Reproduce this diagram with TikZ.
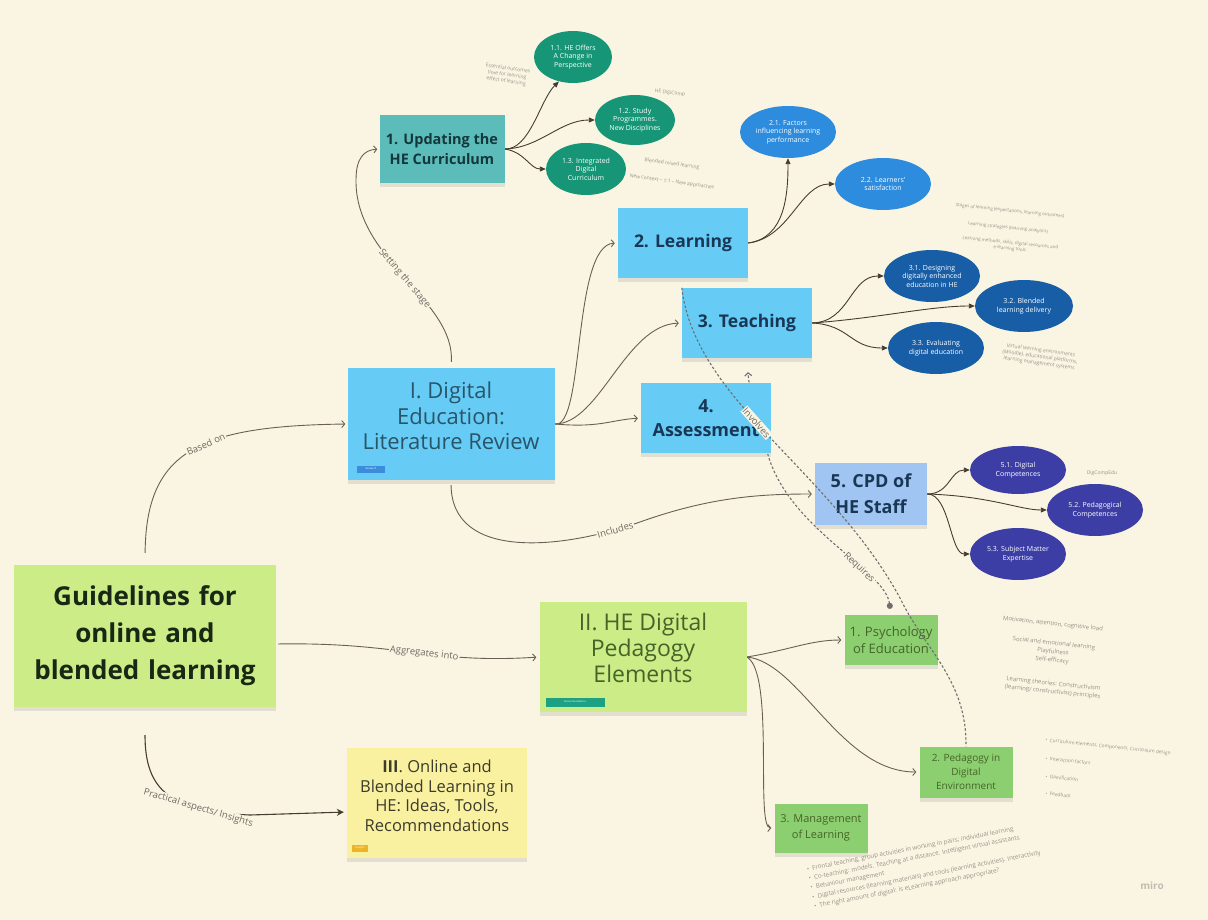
\documentclass[tikz,border=0pt]{standalone}
\usepackage{fontspec}
\setmainfont{Open Sans}
\usetikzlibrary{arrows.meta,shadows,shapes.geometric}
\definecolor{bg}{RGB}{250,245,226}
\definecolor{lgreen}{RGB}{203,236,135}
\definecolor{lyellow}{RGB}{250,241,160}
\definecolor{skyb}{RGB}{103,204,245}
\definecolor{cpdc}{RGB}{160,197,242}
\definecolor{tealc}{RGB}{92,188,186}
\definecolor{sgreen}{RGB}{140,207,112}
\definecolor{egreen}{RGB}{22,150,118}
\definecolor{eblue}{RGB}{45,140,222}
\definecolor{edblue}{RGB}{24,94,166}
\definecolor{eindigo}{RGB}{60,62,165}
\definecolor{linec}{RGB}{105,95,85}
\definecolor{arrc}{RGB}{70,60,50}
\definecolor{dashc}{RGB}{110,110,110}
\definecolor{lblc}{RGB}{110,105,100}
\definecolor{notec}{RGB}{150,145,138}
\definecolor{bluetxt}{RGB}{25,55,85}
\definecolor{itxt}{RGB}{40,85,105}
\definecolor{gtxt}{RGB}{70,100,40}
\definecolor{guidetxt}{RGB}{25,40,20}
\definecolor{iiitxt}{RGB}{60,60,45}
\definecolor{updtxt}{RGB}{20,55,60}
\definecolor{mirotxt}{RGB}{192,188,178}
\definecolor{tagblue}{RGB}{60,140,220}
\definecolor{tagteal}{RGB}{30,160,130}
\definecolor{tagorange}{RGB}{238,180,40}
\pgfdeclarelayer{bottom}
\pgfdeclarelayer{bgl}
\pgfsetlayers{bottom,bgl,main}
\begin{document}
\begin{tikzpicture}[x=1pt,y=-1pt,
  sticky/.style={rectangle, inner sep=2pt, align=center,
    drop shadow={shadow xshift=0pt, shadow yshift=-4pt, opacity=0.18}},
  oval/.style={ellipse, inner sep=-9pt, align=center, text=white,
    font=\fontsize{7}{8.5}\selectfont},
  conn/.style={draw=linec, line width=0.9pt, -{Straight Barb[length=3pt,width=7pt]}},
  tri/.style={draw=arrc, line width=0.9pt, -{Triangle[length=6pt,width=5pt]}},
  lbl/.style={fill=bg, inner sep=1pt, text=lblc, font=\fontsize{9.5}{11}\selectfont},
  note/.style={text=notec, font=\fontsize{5}{6.5}\selectfont, align=center},
  dsh/.style={draw=dashc, line width=1.1pt, dash pattern=on 2.5pt off 2pt},
  tag/.style={rectangle, inner sep=0pt, minimum height=7, text=white,
    font=\fontsize{2.5}{3}\selectfont}]
\begin{pgfonlayer}{bottom}
\fill[bg] (0,0) rectangle (1208,920);
\end{pgfonlayer}
\useasboundingbox (0,0) rectangle (1208,920);

% ---------- main stickies ----------
\node[sticky, fill=lgreen, minimum width=262, minimum height=142, text width=258,
  text=guidetxt, font=\fontsize{26}{37}\selectfont\bfseries]
  (guide) at (145,636) {Guidelines for\\online and\\blended learning};

\node[sticky, fill=skyb, minimum width=207, minimum height=112] (digi) at (451,424) {};
\node[text=itxt, align=center, font=\fontsize{22}{25.5}\selectfont] (digit) at (451,416) {I. Digital\\Education:\\Literature Review};
\node[tag, fill=tagblue, minimum width=28] (tagr) at (371,469) {Research};

\node[sticky, fill=lgreen, minimum width=207, minimum height=110] (pedago) at (643,657) {};
\node[text=gtxt, align=center, font=\fontsize{23}{26}\selectfont] (pedagot) at (643,648) {II. HE Digital\\Pedagogy\\Elements};
\node[tag, fill=tagteal, minimum width=59, minimum height=9] (tagrec) at (575,702) {Recommendations};

\node[sticky, fill=lyellow, minimum width=180, minimum height=110] (iii) at (437,803) {};
\node[text=iiitxt, align=center, font=\fontsize{16.5}{19.5}\selectfont] (iiit) at (437,796) {\textbf{III}. Online and\\Blended Learning in\\HE: Ideas, Tools,\\Recommendations};
\node[tag, fill=tagorange, minimum width=16] (tagins) at (360,848) {Insights};

\node[sticky, fill=tealc, minimum width=125, minimum height=68, text=updtxt,
  font=\fontsize{14.5}{20}\selectfont\bfseries] (upd) at (442,149) {1. Updating the\\HE Curriculum};

\node[sticky, fill=skyb, minimum width=130, minimum height=70, text=bluetxt,
  font=\fontsize{17.5}{22}\selectfont\bfseries] (learn) at (683,243) {2. Learning};
\node[sticky, fill=skyb, minimum width=130, minimum height=70, text=bluetxt,
  font=\fontsize{17.5}{22}\selectfont\bfseries] (teach) at (747,323) {3. Teaching};
\node[sticky, fill=skyb, minimum width=130, minimum height=70, text=bluetxt,
  font=\fontsize{18}{24}\selectfont\bfseries] (assess) at (706,418) {4.\\Assessment};
\node[sticky, fill=cpdc, minimum width=112, minimum height=62, text=bluetxt,
  font=\fontsize{18}{26}\selectfont\bfseries] (cpd) at (871,494) {5. CPD of\\HE Staff};

\node[sticky, fill=sgreen, minimum width=93, minimum height=50, text=gtxt,
  font=\fontsize{13}{16.5}\selectfont] (psych) at (891,640) {1. Psychology\\of Education};
\node[sticky, fill=sgreen, minimum width=93, minimum height=51, text=gtxt,
  font=\fontsize{10}{14}\selectfont] (peddig) at (966,772) {2. Pedagogy in\\Digital\\Environment};
\node[sticky, fill=sgreen, minimum width=93, minimum height=49, text=gtxt,
  font=\fontsize{11}{16}\selectfont] (mgmt) at (821,828) {3. Management\\of Learning};

% ---------- ellipses ----------
\node[oval, fill=egreen, minimum width=78, minimum height=52] (e11) at (573,57) {1.1. HE Offers\\A Change in\\Perspective};
\node[oval, fill=egreen, minimum width=80, minimum height=50] (e12) at (635,120) {1.2. Study\\Programmes.\\New Disciplines};
\node[oval, fill=egreen, minimum width=80, minimum height=52] (e13) at (586,169) {1.3. Integrated\\Digital\\Curriculum};
\node[oval, fill=eblue, minimum width=96, minimum height=52] (e21) at (788,132) {2.1. Factors\\influencing learning\\performance};
\node[oval, fill=eblue, minimum width=96, minimum height=52] (e22) at (883,184) {2.2. Learners'\\satisfaction};
\node[oval, fill=edblue, minimum width=96, minimum height=52] (e31) at (932,276) {3.1. Designing\\digitally enhanced\\education in HE};
\node[oval, fill=edblue, minimum width=98, minimum height=52] (e32) at (1024,306) {3.2. Blended\\learning delivery};
\node[oval, fill=edblue, minimum width=96, minimum height=52] (e33) at (936,348) {3.3. Evaluating\\digital education};
\node[oval, fill=eindigo, minimum width=96, minimum height=48] (e51) at (1018,470) {5.1. Digital\\Competences};
\node[oval, fill=eindigo, minimum width=96, minimum height=52] (e52) at (1095,510) {5.2. Pedagogical\\Competences};
\node[oval, fill=eindigo, minimum width=96, minimum height=52] (e53) at (1018,554) {5.3. Subject Matter\\Expertise};

% ---------- small notes ----------
\node[note, rotate=-8] (n1) at (507,75) {Essential outcomes\\time for learning\\effect of learning};
\node[note, rotate=-8] (n2) at (670,93) {HE DigiComp};
\node[note, rotate=-8] (n3) at (672,164) {Blended mixed learning};
\node[note, rotate=-8] (n4) at (672,182) {New context -- 1:1 -- New approaches};
\node[note, rotate=-6, font=\fontsize{4.5}{6}\selectfont] (n5) at (1010,211) {Stages of learning (expectations, learning outcomes)};
\node[note, rotate=-6, font=\fontsize{4.5}{6}\selectfont] (n6) at (1008,228) {Learning strategies (learning analytics)};
\node[note, rotate=-6, font=\fontsize{4.5}{6}\selectfont] (n7) at (1010,246) {Learning methods, skills, digital resources and\\e-learning tools};
\node[note, rotate=-8] (n8) at (1040,357) {Virtual learning environments\\(Moodle), educational platforms,\\learning management systems};
\node[note] (n9) at (1102,473) {DigCompEdu};
\node[note, rotate=-6, font=\fontsize{6}{8}\selectfont] (n10) at (1053,624) {Motivation, attention, cognitive load};
\node[note, rotate=-6, font=\fontsize{6}{8.5}\selectfont] (n11) at (1053,652) {Social and emotional learning\\Playfulness\\Self-efficacy};
\node[note, rotate=-6, font=\fontsize{6}{8}\selectfont] (n12) at (1053,688) {Learning theories: Constructivism\\(learning/ constructivist) principles};
\node[note, anchor=west, rotate=-6, font=\fontsize{4.8}{6}\selectfont] (n13) at (1042,740) {\textbullet\ \ Curriculum elements, Components, Curriculum design};
\node[note, anchor=west, rotate=-6, font=\fontsize{4.8}{6}\selectfont] (n14) at (1042,758) {\textbullet\ \ Interaction factors};
\node[note, anchor=west, rotate=-6, font=\fontsize{4.8}{6}\selectfont] (n15) at (1042,776) {\textbullet\ \ Gamification};
\node[note, anchor=west, rotate=-6, font=\fontsize{4.8}{6}\selectfont] (n16) at (1042,793) {\textbullet\ \ Feedback};
\node[note, align=left, anchor=south west, rotate=11, font=\fontsize{6.2}{9.5}\selectfont] (n17) at (812,914)
  {\textbullet\ \ Frontal teaching, group activities in working in pairs; individual learning\\
   \textbullet\ \ Co-teaching: models. Teaching at a distance. Intelligent virtual assistants\\
   \textbullet\ \ Behaviour management\\
   \textbullet\ \ Digital resources (learning materials) and tools (learning activities). Interactivity\\
   \textbullet\ \ The right amount of digital: is eLearning approach appropriate?};
\node[text=mirotxt, font=\fontsize{10}{12}\selectfont\bfseries] (miro) at (1152,886) {miro};

% ---------- connectors (under stickies) ----------
\begin{pgfonlayer}{bgl}
\draw[conn, shorten <=12pt, shorten >=2pt] (guide.north) .. controls (146,450) and (200,426) .. (digi.west)
  node[lbl, pos=0.57, sloped] {Based on};
\draw[conn, shorten <=2pt, shorten >=3pt] ([yshift=-8pt]guide.east) .. controls (400,642) and (430,664) .. (pedago.west)
  node[lbl, pos=0.55, sloped] {Aggregates into};
\draw[draw=arrc, line width=1.1pt, -{Stealth[length=7pt,width=7pt]}, shorten <=28pt, shorten >=3pt]
  (guide.south) .. controls (145,790) and (170,812) .. (250,815)
  node[lbl, pos=0.74, sloped] {Practical aspects/ Insights} -- ([yshift=-9pt]iii.west);
\draw[conn, shorten <=6pt, shorten >=2pt] (digi.north) .. controls (455,300) and (355,260) .. (356,180)
  node[lbl, pos=0.5, sloped] {Setting the stage}
  .. controls (356,158) and (364,150) .. (upd.west);
\draw[conn, shorten >=3pt] (digi.east) .. controls (585,430) and (572,245) .. (learn.west);
\draw[conn, shorten >=3pt] (digi.east) .. controls (600,424) and (625,325) .. (teach.west);
\draw[conn, shorten >=3pt] (digi.east) .. controls (600,428) and (610,420) .. (assess.west);
\draw[conn, shorten <=5pt, shorten >=3pt] (digi.south) .. controls (452,560) and (560,550) .. (640,522)
  node[lbl, pos=0.9, sloped] {Includes}
  .. controls (710,497) and (760,494) .. (cpd.west);
% Updating -> 1.x
\draw[tri] (upd.east) .. controls (530,150) and (540,100) .. (e11.240);
\draw[tri] (upd.east) .. controls (540,148) and (560,120) .. (e12.west);
\draw[tri] (upd.east) .. controls (525,152) and (530,169) .. (e13.west);
% Learning -> 2.x
\draw[tri] (learn.east) .. controls (785,238) and (788,195) .. (e21.south);
\draw[tri] (learn.east) .. controls (790,238) and (800,184) .. (e22.west);
% Teaching -> 3.x
\draw[tri] (teach.east) .. controls (850,322) and (850,276) .. (e31.west);
\draw[tri] (teach.east) .. controls (880,318) and (930,306) .. (e32.west);
\draw[tri] (teach.east) .. controls (850,325) and (850,348) .. (e33.west);
% CPD -> 5.x
\draw[tri] (cpd.east) .. controls (950,494) and (950,470) .. (e51.west);
\draw[tri] (cpd.east) .. controls (990,496) and (1020,510) .. (e52.west);
\draw[tri] (cpd.east) .. controls (950,494) and (950,554) .. (e53.west);
% II -> elements
\draw[conn, shorten >=3pt] (pedago.east) .. controls (790,650) and (810,640) .. (psych.west);
\draw[conn, shorten >=3pt] (pedago.east) .. controls (800,662) and (840,772) .. (peddig.west);
\draw[conn, shorten >=3pt] (pedago.east) .. controls (775,672) and (755,828) .. (mgmt.west);
% Requires (dotted, under stickies)
\draw[dsh, {Circle[length=6pt]}-{Straight Barb[length=3pt,width=7pt]}, shorten <=6pt, shorten >=14pt]
  (psych.north) .. controls (885,570) and (790,530) .. (768,455)
  node[lbl, pos=0.35, sloped] {Requires}
  .. controls (760,420) and (750,400) .. (teach.south);
\end{pgfonlayer}
% Involves (dotted, over stickies)
\draw[dsh] (teach.north west) .. controls (695,400) and (830,470) .. (900,598)
  node[lbl, pos=0.45, sloped] {Involves}
  .. controls (925,650) and (967,680) .. (peddig.north);
\end{tikzpicture}
\end{document}
